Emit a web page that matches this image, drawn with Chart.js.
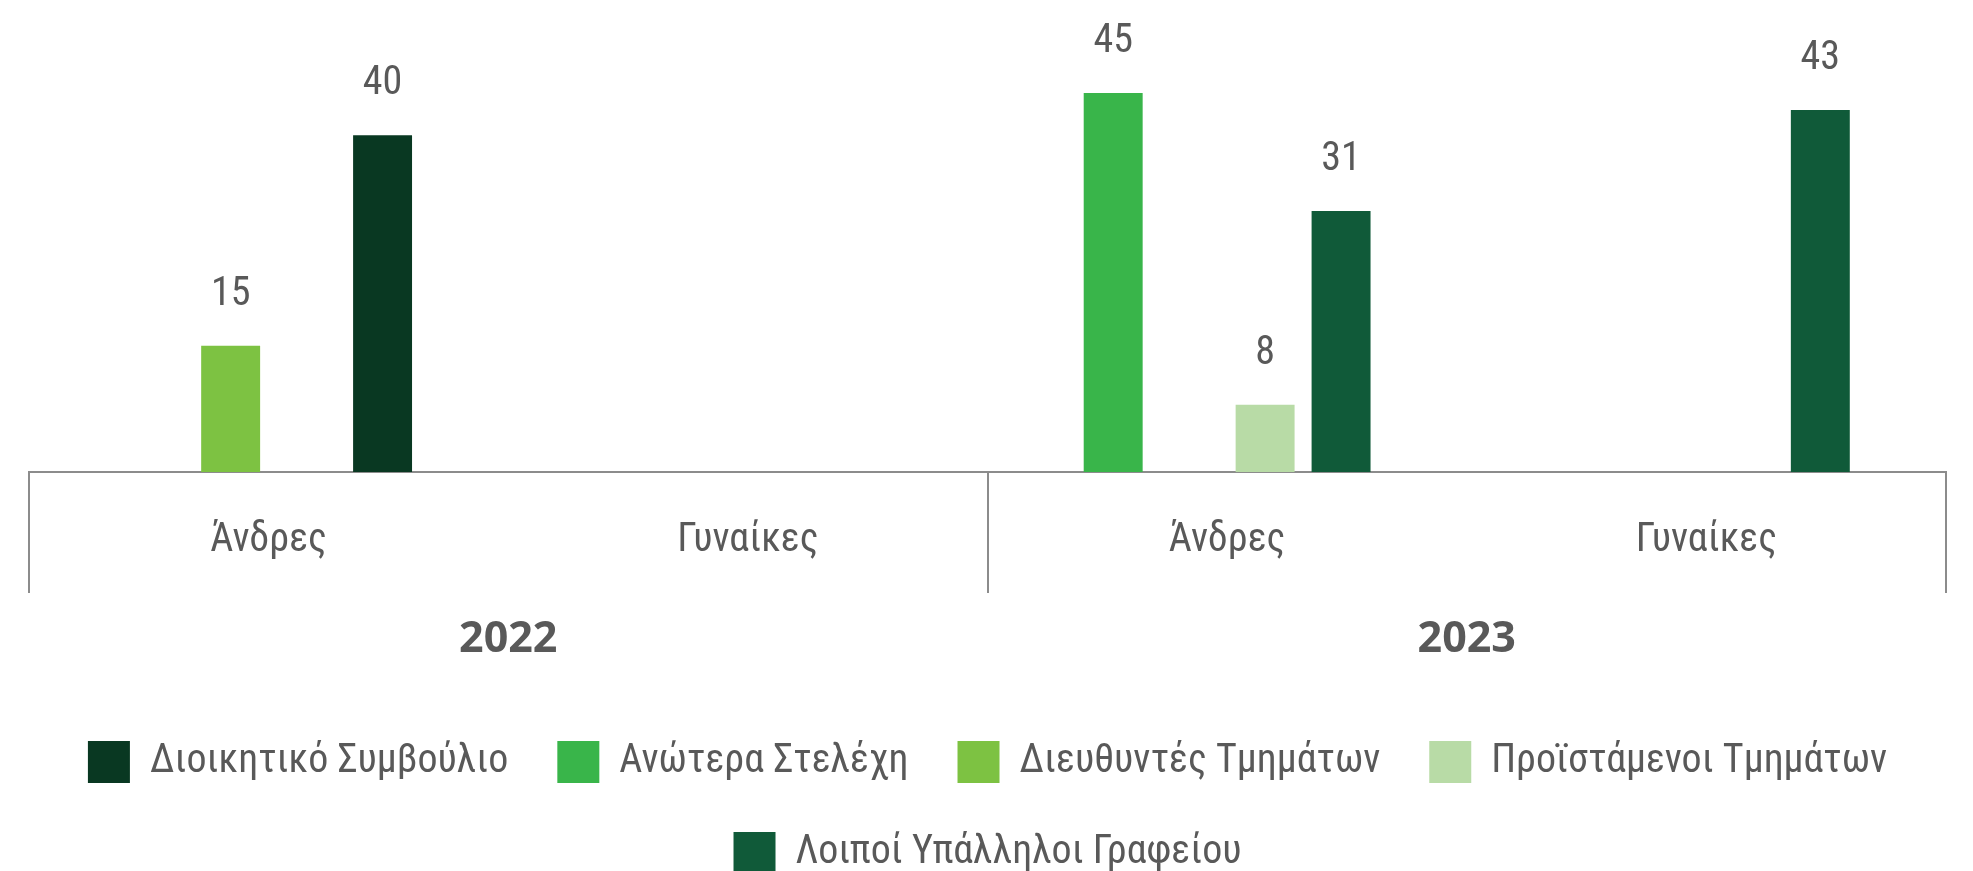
<!DOCTYPE html>
<html lang="el">
<head>
<meta charset="utf-8">
<title>Κατανομή εργαζομένων ανά θέση και φύλο</title>
<script src="https://cdn.jsdelivr.net/npm/chart.js@4.4.1/dist/chart.umd.min.js"></script>
<style>
  html, body { margin: 0; padding: 0; background: #ffffff; }
</style>
</head>
<body>
<canvas id="staffChart" width="1973" height="871"></canvas>
<script>
// Κατηγορίες άξονα (φύλο ανά έτος) και έτη
const categories = ['Άνδρες', 'Γυναίκες', 'Άνδρες', 'Γυναίκες'];
const years = ['2022', '2023'];

// Σειρές δεδομένων (null = καμία τιμή στην κατηγορία)
const seriesNames = [
    'Διοικητικό Συμβούλιο',
    'Ανώτερα Στελέχη',
    'Διευθυντές Τμημάτων',
    'Προϊστάμενοι Τμημάτων',
    'Λοιποί Υπάλληλοι Γραφείου'
];
const dioikitikoSymvoulio = [40, null, null, null];
const anoteraStelexi = [null, null, 45, null];
const diefthyntesTmimaton = [15, null, null, null];
const proistamenoiTmimaton = [null, null, 8, null];
const loipoiYpalliloi = [null, null, 31, 43];

const seriesColors = ['#093822', '#39b54a', '#7dc242', '#b8dba6', '#105a39'];

const textColor = '#595959';
const axisColor = '#8c8c8c';
const condensed = "'Roboto Condensed', 'Liberation Sans Narrow', Roboto, sans-serif";

Chart.defaults.font.family = condensed;
Chart.defaults.color = textColor;

// Ετικέτες τιμών πάνω από κάθε στήλη
const valueLabels = {
    id: 'valueLabels',
    afterDatasetsDraw(chart) {
        const ctx = chart.ctx;
        ctx.save();
        ctx.font = `40px ${condensed}`;
        ctx.fillStyle = textColor;
        ctx.textAlign = 'center';
        ctx.textBaseline = 'alphabetic';
        chart.data.datasets.forEach((ds, i) => {
            const meta = chart.getDatasetMeta(i);
            if (meta.hidden) return;
            meta.data.forEach((bar, j) => {
                const v = ds.data[j];
                if (v === null || v === undefined) return;
                ctx.fillText(String(v), bar.x, bar.y - 41);
            });
        });
        ctx.restore();
    }
};

function makeDataset(idx, data, stack, order = 0) {
    return {
        label: seriesNames[idx],
        data: data,
        backgroundColor: seriesColors[idx],
        borderColor: seriesColors[idx],
        borderWidth: 0,
        stack: stack,
        order: order,
        categoryPercentage: 0.634,
        barPercentage: 0.776
    };
}

// Το Δ.Σ. μοιράζεται την τελευταία θέση της ομάδας με τους λοιπούς υπαλλήλους
const datasets = [
    makeDataset(0, dioikitikoSymvoulio, 'teleftaia', 1),
    makeDataset(1, anoteraStelexi, 'anotera'),
    makeDataset(2, diefthyntesTmimaton, 'diefthyntes'),
    makeDataset(3, proistamenoiTmimaton, 'proistamenoi'),
    makeDataset(4, loipoiYpalliloi, 'teleftaia')
];

new Chart(document.getElementById('staffChart'), {
    type: 'bar',
    data: {
        labels: categories,
        datasets: datasets
    },
    options: {
        responsive: false,
        animation: false,
        layout: {
            padding: { top: 51, left: 29, right: 27, bottom: -13 }
        },
        scales: {
            x: {
                type: 'category',
                offset: true,
                border: { display: true, color: axisColor, width: 2 },
                grid: {
                    offset: true,
                    drawOnChartArea: false,
                    drawTicks: true,
                    tickLength: 121,
                    lineWidth: 2,
                    // διαχωριστικά μόνο στα όρια των ετών
                    color: (c) => (c.index === undefined || c.index % 2 === 0) ? axisColor : 'rgba(0,0,0,0)'
                },
                ticks: {
                    autoSkip: false,
                    maxRotation: 0,
                    padding: -76,
                    color: textColor,
                    font: { size: 40 }
                },
                afterFit: (scale) => { scale.height = 90; }
            },
            year: {
                type: 'category',
                position: 'bottom',
                labels: years,
                offset: true,
                grid: { display: false },
                border: { display: false },
                ticks: {
                    padding: 44,
                    color: textColor,
                    font: { family: "'Open Sans', 'DejaVu Sans', sans-serif", size: 43, weight: 'bold' }
                },
                afterFit: (scale) => { scale.height = 130; }
            },
            y: {
                display: false,
                min: 0,
                max: 50
            }
        },
        plugins: {
            legend: {
                position: 'bottom',
                labels: {
                    boxWidth: 42,
                    boxHeight: 42,
                    padding: 49,
                    color: textColor,
                    font: { size: 40 },
                    sort: (a, b) => a.datasetIndex - b.datasetIndex
                }
            },
            tooltip: { enabled: false }
        }
    },
    plugins: [valueLabels]
});
</script>
</body>
</html>
